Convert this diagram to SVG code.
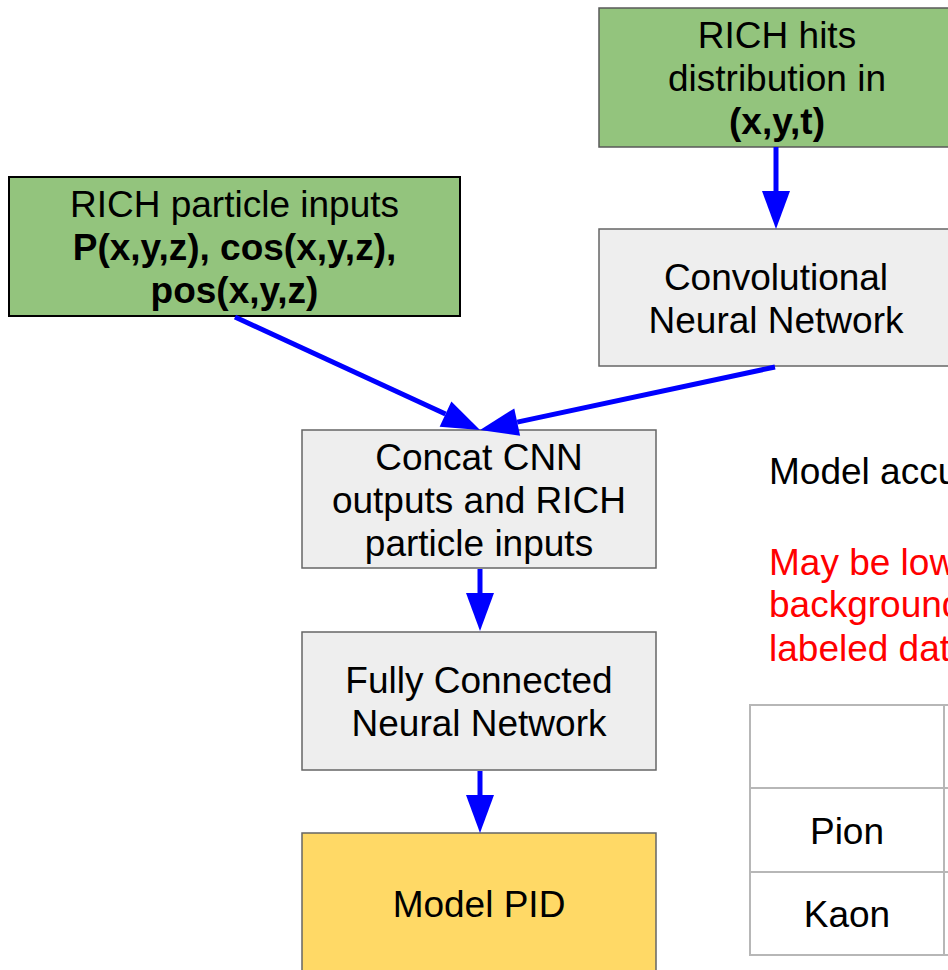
<svg xmlns="http://www.w3.org/2000/svg" width="948" height="970" viewBox="0 0 948 970">
  <style>
    text { font-family: "Liberation Sans", Arial, sans-serif; font-size: 37px; fill: #000000; text-anchor: middle; }
    .b { font-weight: bold; }
    .green { fill: #93c47d; stroke: #595959; stroke-width: 1.5; }
    .green-dark { fill: #93c47d; stroke: #000000; stroke-width: 2; }
    .gray { fill: #eeeeee; stroke: #666666; stroke-width: 1.5; }
    .gold { fill: #ffd966; stroke: #666666; stroke-width: 1.5; }
    .conn { stroke: #0000ff; stroke-width: 5; fill: none; marker-end: url(#head); }
    .note { text-anchor: start; }
    .red { fill: #ff0000; }
    .grid { stroke: #b7b7b7; stroke-width: 2; fill: none; }
  </style>
  <defs>
    <marker id="head" markerUnits="userSpaceOnUse" markerWidth="40" markerHeight="30" refX="0" refY="14" orient="auto" overflow="visible">
      <path d="M0,0 L38,14 L0,28 z" fill="#0000ff"/>
    </marker>
  </defs>
  <rect width="948" height="970" fill="#ffffff"/>

  <g id="hits">
    <rect class="green" x="599" y="8" width="356" height="139"/>
    <text x="777" y="48">RICH hits</text>
    <text x="777" y="91">distribution in</text>
    <text class="b" x="777" y="134">(x,y,t)</text>
  </g>

  <g id="particle-inputs">
    <rect class="green-dark" x="9" y="177" width="451" height="139"/>
    <text x="234.5" y="217">RICH particle inputs</text>
    <text class="b" x="234.5" y="260">P(x,y,z), cos(x,y,z),</text>
    <text class="b" x="234.5" y="303">pos(x,y,z)</text>
  </g>

  <g id="cnn">
    <rect class="gray" x="599" y="229" width="354" height="137"/>
    <text x="776" y="290">Convolutional</text>
    <text x="776" y="333">Neural Network</text>
  </g>

  <g id="concat">
    <rect class="gray" x="302" y="430" width="354" height="138"/>
    <text x="479" y="470">Concat CNN</text>
    <text x="479" y="513">outputs and RICH</text>
    <text x="479" y="556">particle inputs</text>
  </g>

  <g id="fcnn">
    <rect class="gray" x="302" y="632" width="354" height="138"/>
    <text x="479" y="693">Fully Connected</text>
    <text x="479" y="736">Neural Network</text>
  </g>

  <g id="pid">
    <rect class="gold" x="302" y="833" width="354" height="150"/>
    <text x="479" y="917">Model PID</text>
  </g>

  <g id="notes">
    <text class="note" x="769" y="484">Model accu</text>
    <text class="note red" x="769" y="575">May be low</text>
    <text class="note red" x="769" y="617">background</text>
    <text class="note red" x="769" y="661">labeled dat</text>
  </g>

  <g id="accuracy-table">
    <rect class="grid" x="750" y="705" width="260" height="250"/>
    <line class="grid" x1="750" y1="788" x2="1010" y2="788"/>
    <line class="grid" x1="750" y1="872" x2="1010" y2="872"/>
    <line class="grid" x1="944" y1="705" x2="944" y2="955"/>
    <text x="847" y="844">Pion</text>
    <text x="847" y="927">Kaon</text>
  </g>

  <g id="connectors">
    <line class="conn" x1="776" y1="147" x2="776" y2="191"/>
    <line class="conn" x1="235" y1="317" x2="445.5" y2="414.1"/>
    <line class="conn" x1="775" y1="367" x2="517.2" y2="422.1"/>
    <line class="conn" x1="480" y1="569" x2="480" y2="593"/>
    <line class="conn" x1="480" y1="771" x2="480" y2="795"/>
  </g>
</svg>
